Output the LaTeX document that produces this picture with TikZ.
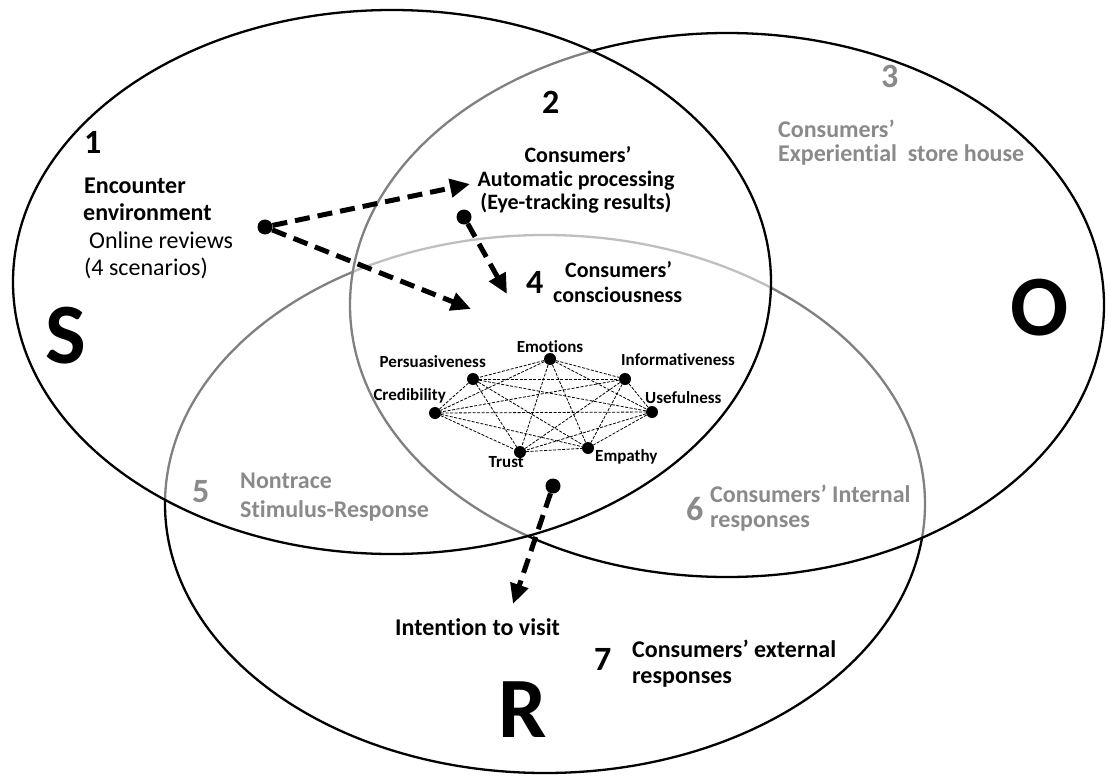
\documentclass[tikz,border=0pt]{standalone}
\usepackage{fontspec}
\setmainfont{Carlito}[Ligatures={TeX,NoCommon}]
\usetikzlibrary{arrows.meta}
\definecolor{txtgray}{RGB}{138,138,138}
\begin{document}
\begin{tikzpicture}[x=1pt,y=-1pt,
  ring/.style={draw=black, line width=2.3pt},
  veil/.style={fill=white, fill opacity=0.5},
  txt/.style={inner sep=0pt, font=\fontsize{24}{28}\selectfont\bfseries},
  txtsm/.style={inner sep=0pt, font=\fontsize{22}{26}\selectfont\bfseries},
  txtreg/.style={inner sep=0pt, font=\fontsize{24}{28}\selectfont},
  gtxt/.style={txt, text=txtgray},
  num/.style={inner sep=0pt, font=\fontsize{34}{34}\selectfont\bfseries},
  gnum/.style={num, text=txtgray},
  big/.style={inner sep=0pt, font=\fontsize{86}{86}\selectfont\bfseries},
  small/.style={inner sep=0pt, font=\fontsize{17}{17}\selectfont\bfseries},
  netdot/.style={circle, fill=black, inner sep=0pt, minimum size=12pt},
  startdot/.style={circle, fill=black, inner sep=0pt, minimum size=15pt},
  net/.style={line width=0.8pt, dash pattern=on 3pt off 1.5pt},
  arr/.style={line width=5pt, dash pattern=on 15pt off 8pt, -{Triangle[length=20pt,width=18pt]}}
]
\useasboundingbox (0,0) rectangle (1108,776);

% three overlapping ellipses (R, O, S)
\draw[ring] (545,504) ellipse (380pt and 269pt);
\fill[veil] (727,305) ellipse (377pt and 272pt);
\draw[ring] (727,305) ellipse (377pt and 272pt);
\fill[veil] (392,282) ellipse (379pt and 272pt);
\draw[ring] (392,282) ellipse (379pt and 272pt);

% big letters
\node[big, anchor=base west] (S) at (45,363) {S};
\node[big, anchor=base west] (O) at (1010,335) {O};
\node[big, anchor=base west] (R) at (498,737) {R};

% numbers
\node[num, anchor=base west] (n1) at (84,153) {1};
\node[num, anchor=base west] (n2) at (542,113) {2};
\node[gnum, anchor=base west] (n3) at (881,88) {3};
\node[num, anchor=base west] (n4) at (526,293) {4};
\node[gnum, anchor=base west] (n5) at (192,502) {5};
\node[gnum, anchor=base west] (n6) at (686,520) {6};
\node[num, anchor=base west] (n7) at (594,670) {7};

% region 1
\node[txt, anchor=base west] (enc1) at (84,193) {Encounter};
\node[txt, anchor=base west] (enc2) at (83,220) {environment};
\node[txtreg, anchor=base west] (enc3) at (89,248) {Online reviews};
\node[txtreg, anchor=base west] (enc4) at (84,275) {(4 scenarios)};

% region 2
\node[txtsm, anchor=base] (a1) at (578,162) {Consumers’};
\node[txtsm, anchor=base] (a2) at (576,186) {Automatic processing};
\node[txtsm, anchor=base] (a3) at (576,209) {(Eye-tracking results)};

% region 4
\node[txtsm, anchor=base west] (c1) at (565,277) {Consumers’};
\node[txtsm, anchor=base west] (c2) at (553,302) {consciousness};

% region 3
\node[gtxt, anchor=base west] (e1) at (778,137) {Consumers’};
\node[gtxt, anchor=base west] (e2) at (778,161) {Experiential\ \ store house};

% region 5
\node[gtxt, anchor=base west] (s1) at (240,488) {Nontrace};
\node[gtxt, anchor=base west] (s2) at (240,517) {Stimulus-Response};

% region 6
\node[gtxt, anchor=base west] (i1) at (710,502) {Consumers’ Internal};
\node[gtxt, anchor=base west] (i2) at (710,527) {responses};

% region 7
\node[txt, anchor=base west] (iv) at (395,635) {Intention to visit};
\node[txt, anchor=base west] (x1) at (632,657) {Consumers’ external};
\node[txt, anchor=base west] (x2) at (632,683) {responses};

% network of constructs
\node[netdot] (emo) at (550,359) {};
\node[netdot] (per) at (473,379) {};
\node[netdot] (inf) at (625,379) {};
\node[netdot] (cre) at (435,413) {};
\node[netdot] (use) at (652,412) {};
\node[netdot] (tru) at (520,452) {};
\node[netdot] (emp) at (588,448) {};
\foreach \a/\b in {emo/per,emo/inf,emo/cre,emo/use,emo/tru,emo/emp,
                   per/inf,per/cre,per/use,per/tru,per/emp,
                   inf/cre,inf/use,inf/tru,inf/emp,
                   cre/use,cre/tru,cre/emp,
                   use/tru,use/emp,tru/emp}
  \draw[net] (\a) -- (\b);

\node[small, anchor=base] (lemo) at (550,352) {Emotions};
\node[small, anchor=base east] (lper) at (486,367) {Persuasiveness};
\node[small, anchor=base west] (linf) at (621,365) {Informativeness};
\node[small, anchor=base east] (lcre) at (446,400) {Credibility};
\node[small, anchor=base west] (luse) at (645,403) {Usefulness};
\node[small, anchor=base east] (ltru) at (524,467) {Trust};
\node[small, anchor=base west] (lemp) at (595,461) {Empathy};

% arrows
\node[startdot] (dA) at (265,227) {};
\node[startdot] (dB) at (464,217) {};
\node[startdot] (dC) at (553,486) {};
\coordinate (t1) at (470,184);
\coordinate (t2) at (471,309);
\coordinate (t3) at (507,294);
\coordinate (t4) at (513,604);
\draw[arr] (dA) -- (t1);
\draw[arr] (dA) -- (t2);
\draw[arr] (dB) -- (t3);
\draw[arr] (dC) -- (t4);
\end{tikzpicture}
\end{document}
